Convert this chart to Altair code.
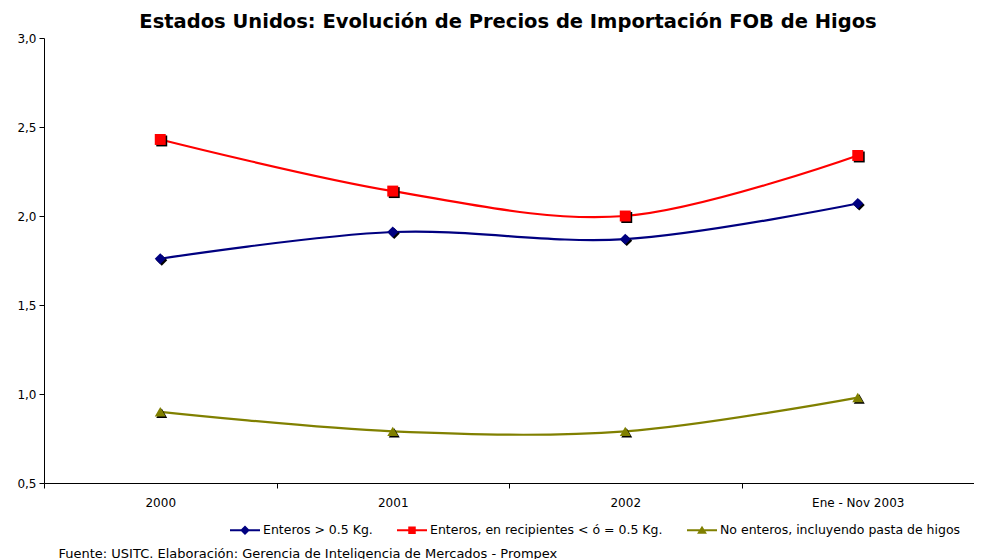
import altair as alt
import pandas as pd

categorias = ["2000", "2001", "2002", "Ene - Nov 2003"]
series = [
    "Enteros > 0.5 Kg.",
    "Enteros, en recipientes < ó = 0.5 Kg.",
    "No enteros, incluyendo pasta de higos",
]
enteros = [1.76, 1.91, 1.87, 2.07]
recipientes = [2.43, 2.14, 2.00, 2.34]
no_enteros = [0.90, 0.79, 0.79, 0.98]
colores = ["#000080", "#FF0000", "#808000"]
formas = ["diamond", "square", "triangle-up"]
y_ticks = [0.5, 1.0, 1.5, 2.0, 2.5, 3.0]

titulo = "Estados Unidos: Evolución de Precios de Importación FOB de Higos"
fuente = "Fuente: USITC. Elaboración: Gerencia de Inteligencia de Mercados - Prompex"

rows = []
for s, vals in zip(series, [enteros, recipientes, no_enteros]):
    for c, v in zip(categorias, vals):
        rows.append({"serie": s, "periodo": c, "precio": v})
df = pd.DataFrame(rows)

FONT = "DejaVu Sans"

# legend symbols: a line segment with the marker on top
BAR = "M-1,-0.07H1V0.07H-1Z "
legend_paths = [
    BAR + "M0,-0.32L0.32,0L0,0.32L-0.32,0Z",
    BAR + "M-0.25,-0.25H0.25V0.25H-0.25Z",
    BAR + "M0,-0.3L0.33,0.24H-0.33Z",
]

x_enc = alt.X(
    "periodo:N",
    sort=categorias,
    scale=alt.Scale(type="band", domain=categorias, paddingInner=0, paddingOuter=0),
    axis=alt.Axis(
        title=fuente,
        titleX=14,
        titleY=70,
        titleAnchor="start",
        titleAlign="left",
        titleBaseline="middle",
        titleFont=FONT,
        titleFontSize=13,
        titleFontWeight="normal",
        titleColor="#000000",
        labelAngle=0,
        labelFont=FONT,
        labelFontSize=12,
        labelColor="#000000",
        labelPadding=9,
        tickBand="extent",
        tickSize=5,
        tickColor="#000000",
        domainColor="#000000",
        grid=False,
    ),
)
y_enc = alt.Y(
    "precio:Q",
    scale=alt.Scale(domain=[0.5, 3.0], nice=False, zero=False),
    axis=alt.Axis(
        title=None,
        values=y_ticks,
        labelExpr="replace(format(datum.value, '.1f'), '.', ',')",
        labelFont=FONT,
        labelFontSize=12,
        labelColor="#000000",
        labelPadding=3,
        tickSize=5,
        tickColor="#000000",
        domainColor="#000000",
        grid=False,
    ),
)

base = alt.Chart(df).encode(x=x_enc, y=y_enc)

line_layers = []
marker_layers = []
for s, shp, col in zip(series, formas, colores):
    sub = base.transform_filter(alt.datum.serie == s)
    line_layers.append(
        sub.mark_line(interpolate="cardinal", strokeWidth=2.2, color=col)
    )
    marker_layers.append(
        sub.mark_point(filled=True, shape=shp, size=120, color="#000000", opacity=1,
                       xOffset=1.5, yOffset=1.5)
    )
    marker_layers.append(
        sub.mark_point(filled=True, shape=shp, size=120, color=col, opacity=1)
    )

leg = alt.Legend(
    title=None,
    orient="none",
    direction="horizontal",
    legendX=186,
    legendY=477,
    symbolSize=900,
    symbolOpacity=1,
    symbolStrokeWidth=0,
    labelFont=FONT,
    labelFontSize=12.5,
    labelColor="#000000",
    labelOffset=3,
    labelLimit=400,
    columnPadding=24,
    padding=0,
)
legend_layer = base.mark_point(filled=True, opacity=0).encode(
    color=alt.Color("serie:N", scale=alt.Scale(domain=series, range=colores), legend=leg),
    shape=alt.Shape("serie:N", scale=alt.Scale(domain=series, range=legend_paths), legend=leg),
)

chart = (
    alt.layer(*line_layers, *marker_layers, legend_layer)
    .properties(
        width=930,
        height=445,
        autosize=alt.AutoSizeParams(type="none"),
        padding={"left": 36, "top": 30, "right": 0, "bottom": 82},
        background="#ffffff",
        title=alt.TitleParams(
            text=titulo,
            font=FONT,
            fontSize=19.5,
            fontWeight="bold",
            color="#000000",
            anchor="middle",
            frame="group",
            baseline="middle",
            offset=-9,
            dx=-1,
        ),
    )
    .configure_view(stroke=None)
)

chart.save("out.html", embed_options={"renderer": "svg", "actions": False})
